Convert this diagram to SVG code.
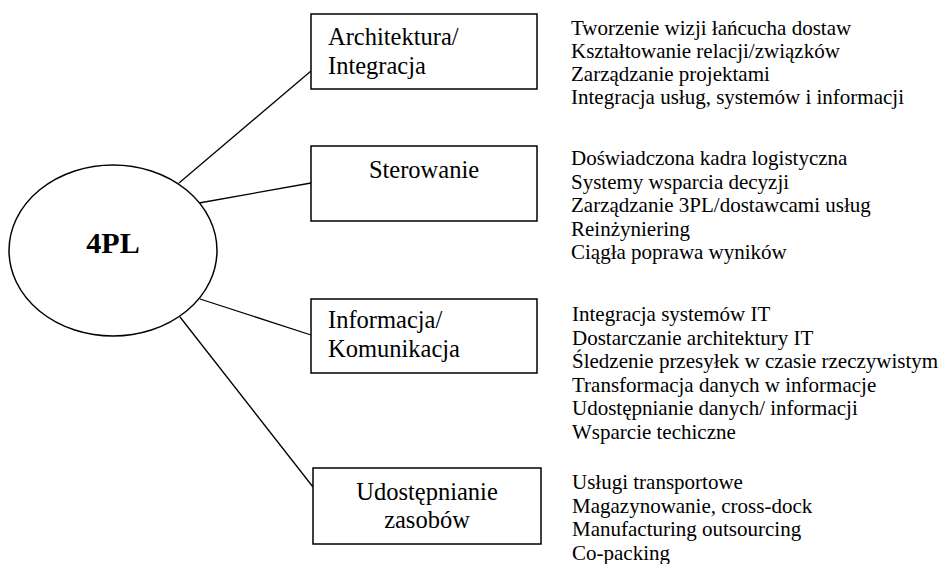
<svg xmlns="http://www.w3.org/2000/svg" width="941" height="564" viewBox="0 0 941 564">
<style>
.box{fill:#fff;stroke:#000;stroke-width:1.5}
.lbl{font-family:"Liberation Serif","Times New Roman",serif;font-size:24.5px;fill:#000}
.mid{text-anchor:middle}
.item{font-family:"Liberation Serif","Times New Roman",serif;font-size:21px;fill:#000}
.conn line{stroke:#000;stroke-width:1.3}
</style>
<rect width="941" height="564" fill="#fff"/>
<g id="connectors" class="conn">
<line x1="179" y1="183" x2="311" y2="71"/>
<line x1="199" y1="203" x2="311" y2="183"/>
<line x1="200" y1="299" x2="311" y2="335"/>
<line x1="180" y1="317" x2="313" y2="487"/>
</g>
<g id="node-4pl">
<ellipse cx="113" cy="250.5" rx="104" ry="85.5" fill="#fff" stroke="#000" stroke-width="1.5"/>
<text x="113" y="253" text-anchor="middle" font-family="'Liberation Serif','Times New Roman',serif" font-size="30" font-weight="bold">4PL</text>
</g>
<g id="node-architektura">
<rect class="box" x="311" y="14" width="226" height="75"/>
<text class="lbl" x="328" y="45">Architektura/</text>
<text class="lbl" x="328" y="74">Integracja</text>
</g>
<g id="node-sterowanie">
<rect class="box" x="311" y="146" width="226" height="75"/>
<text class="lbl mid" x="424" y="178">Sterowanie</text>
</g>
<g id="node-informacja">
<rect class="box" x="311" y="299" width="226" height="74"/>
<text class="lbl" x="328" y="328">Informacja/</text>
<text class="lbl" x="328" y="357">Komunikacja</text>
</g>
<g id="node-udostepnianie">
<rect class="box" x="313" y="468" width="228" height="76"/>
<text class="lbl mid" x="427" y="500">Udostępnianie</text>
<text class="lbl mid" x="427" y="528">zasobów</text>
</g>
<g id="list-architektura" class="item">
<text class="item" x="571" y="34.5">Tworzenie wizji łańcucha dostaw</text>
<text class="item" x="571" y="58">Kształtowanie relacji/związków</text>
<text class="item" x="571" y="81">Zarządzanie projektami</text>
<text class="item" x="571" y="104">Integracja usług, systemów i informacji</text>
</g>
<g id="list-sterowanie">
<text class="item" x="571" y="165">Doświadczona kadra logistyczna</text>
<text class="item" x="571" y="188.5">Systemy wsparcia decyzji</text>
<text class="item" x="571" y="212">Zarządzanie 3PL/dostawcami usług</text>
<text class="item" x="571" y="235.5">Reinżyniering</text>
<text class="item" x="571" y="259">Ciągła poprawa wyników</text>
</g>
<g id="list-informacja">
<text class="item" x="572" y="321">Integracja systemów IT</text>
<text class="item" x="572" y="344.5">Dostarczanie architektury IT</text>
<text class="item" x="572" y="368">Śledzenie przesyłek w czasie rzeczywistym</text>
<text class="item" x="572" y="391.5">Transformacja danych w informacje</text>
<text class="item" x="572" y="415">Udostępnianie danych/ informacji</text>
<text class="item" x="572" y="438.5">Wsparcie techiczne</text>
</g>
<g id="list-udostepnianie">
<text class="item" x="572" y="489">Usługi transportowe</text>
<text class="item" x="572" y="512.5">Magazynowanie, cross-dock</text>
<text class="item" x="572" y="536">Manufacturing outsourcing</text>
<text class="item" x="572" y="559.5">Co-packing</text>
</g>
</svg>
